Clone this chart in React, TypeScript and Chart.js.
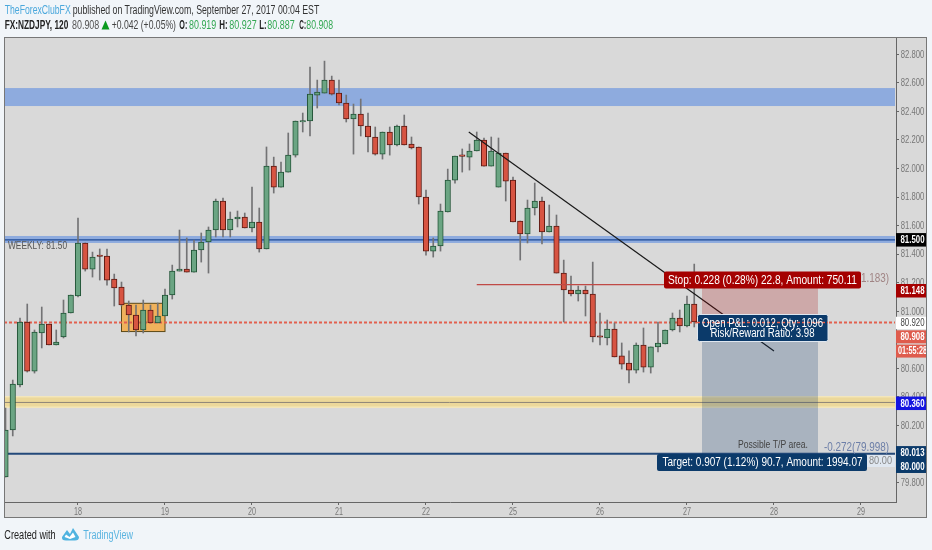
import React, { useEffect, useRef } from "react";
import { Chart, registerables } from "chart.js";

Chart.register(...registerables);

// Bar index 0..95, 12 two-hour bars per trading day
const opens = [79.837,80.167,80.482,80.924,80.58,80.847,80.91,80.763,80.819,80.987,81.106,81.478,81.295,81.385,81.386,81.225,81.169,81.043,80.973,80.868,81.008,80.917,80.966,81.113,81.281,81.295,81.274,81.429,81.485,81.569,81.772,81.569,81.646,81.66,81.583,81.625,81.436,82.017,81.87,81.975,82.094,82.326,82.333,82.515,82.529,82.62,82.529,82.459,82.347,82.382,82.298,82.221,82.101,82.256,82.165,82.298,82.172,82.151,81.8,81.421,81.457,81.695,81.919,82.087,82.08,82.123,82.2,82.017,81.87,82.108,81.919,81.632,81.541,81.723,81.772,81.555,81.597,81.267,81.148,81.12,81.148,81.12,80.82,80.812,80.875,80.686,80.636,80.587,80.763,80.608,80.749,80.77,80.868,80.952,80.896,81.05];
const highs = [80.321,80.517,80.952,81.05,80.868,81.029,80.91,80.868,81.078,81.113,81.653,81.478,81.414,81.436,81.436,81.26,81.204,81.071,81.043,81.078,81.043,81.057,81.155,81.323,81.569,81.513,81.499,81.548,81.59,81.786,81.793,81.695,81.702,81.688,81.87,81.723,82.151,82.08,82.045,82.249,82.333,82.389,82.711,82.62,82.753,82.648,82.62,82.515,82.452,82.487,82.389,82.291,82.256,82.291,82.305,82.375,82.221,82.151,81.849,81.513,81.751,81.996,82.087,82.137,82.172,82.256,82.214,82.221,82.214,82.108,81.94,81.632,81.779,81.898,81.8,81.744,81.674,81.358,81.246,81.176,81.176,81.344,80.987,80.938,80.917,80.777,80.721,80.777,80.882,80.749,80.924,80.868,80.987,81.008,81.106,81.33];
const lows = [79.837,80.125,80.468,80.573,80.566,80.742,80.763,80.763,80.812,80.987,81.099,81.281,81.239,81.218,81.183,81.036,81.036,80.854,80.826,80.847,80.917,80.917,80.966,81.085,81.281,81.274,81.274,81.344,81.267,81.52,81.52,81.52,81.59,81.583,81.555,81.414,81.436,81.828,81.87,81.975,82.08,82.256,82.228,82.424,82.529,82.515,82.445,82.326,82.101,82.228,82.116,82.094,82.066,82.094,82.158,82.165,82.137,81.751,81.393,81.379,81.421,81.695,81.898,81.975,81.989,82.123,82.017,82.017,81.87,81.772,81.625,81.358,81.478,81.674,81.471,81.555,81.267,80.924,81.106,81.071,80.966,80.784,80.763,80.763,80.679,80.594,80.496,80.566,80.573,80.566,80.714,80.77,80.861,80.854,80.889,80.889];
const closes = [80.167,80.489,80.924,80.58,80.854,80.91,80.763,80.784,80.987,81.113,81.478,81.295,81.379,81.383,81.218,81.162,81.043,80.973,80.868,81.008,80.917,80.966,81.113,81.281,81.295,81.274,81.429,81.485,81.569,81.772,81.569,81.646,81.66,81.583,81.625,81.436,82.017,81.87,81.975,82.094,82.333,82.333,82.522,82.536,82.62,82.522,82.459,82.347,82.382,82.298,82.221,82.101,82.256,82.165,82.298,82.165,82.144,81.8,81.421,81.457,81.702,81.919,82.087,82.085,82.123,82.2,82.017,82.123,82.108,81.912,81.625,81.541,81.723,81.772,81.555,81.597,81.267,81.148,81.12,81.148,81.12,80.819,80.817,80.875,80.679,80.629,80.587,80.763,80.608,80.749,80.777,80.868,80.952,80.896,81.05,80.924];

const dayPositions = [10, 22, 34, 46, 58, 70, 82, 94, 106, 118];
const dayLabels = ["18", "19", "20", "21", "22", "25", "26", "27", "28", "29"];
const priceTicks = [79.8, 80, 80.2, 80.4, 80.6, 80.8, 81, 81.2, 81.4, 81.6, 81.8, 82, 82.2, 82.4, 82.6, 82.8];

const upperZone = [82.438, 82.564];
const weeklyZone = [81.478, 81.527];
const weeklyLevel = 81.5;
const yellowZone = [80.321, 80.405];
const yellowLevel = 80.36;
const targetLevel = 80.0;
const currentLevel = 80.92;
const stopLevel = 81.186;
const entryLevel = 80.955;
const orangeBoxX = [16, 22];
const orangeBoxY = [80.857, 81.055];
const positionX = [96.07, 112.07];
const stopLineStart = 65;
const trendX = [63.9, 106];
const trendY = [82.256, 80.72];

const axisLabels = [
  { text: "81.500", at: 81.5, bg: "#000000", fg: "#ffffff", bold: true, h: 13.5 },
  { text: "81.148", at: 81.143, bg: "#a50000", fg: "#ffffff", bold: true, h: 13.5 },
  { text: "80.920", at: 80.917, bg: "#ffffff", fg: "#444444", bold: false, h: 12.5 },
  { text: "80.908", at: 80.82, bg: "#df5c4d", fg: "#ffffff", bold: true, h: 13 },
  { text: "01:55:28", at: 80.72, bg: "#df5c4d", fg: "#ffffff", bold: true, h: 13 },
  { text: "80.360", at: 80.354, bg: "#1414e0", fg: "#ffffff", bold: true, h: 13.5 },
  { text: "80.013", at: 80.005, bg: "#0b3a6a", fg: "#ffffff", bold: true, h: 14 },
  { text: "80.000", at: 79.911, bg: "#0b3a6a", fg: "#ffffff", bold: true, h: 13 },
];

const FONT = '"Liberation Sans", Arial, sans-serif';
const UP = "#6ba583";
const DOWN = "#d75442";
const UP_EDGE = "#225437";
const DOWN_EDGE = "#5b1a13";
const WICK = "#737375";

const isUp = (i: number) => closes[i] >= opens[i];

function text(ctx: any, s: string, x: number, y: number, font: string, color: string, align: CanvasTextAlign = "left", maxW?: number) {
  ctx.font = font;
  ctx.fillStyle = color;
  ctx.textAlign = align;
  ctx.textBaseline = "middle";
  if (maxW) ctx.fillText(s, x, y, maxW);
  else ctx.fillText(s, x, y);
}

function box(ctx: any, x: number, y: number, w: number, h: number, r: number, fill: string, stroke?: string) {
  ctx.beginPath();
  ctx.roundRect(x, y, w, h, r);
  ctx.fillStyle = fill;
  ctx.fill();
  if (stroke) {
    ctx.strokeStyle = stroke;
    ctx.lineWidth = 1;
    ctx.stroke();
  }
}

const framePlugin = {
  id: "frame",
  beforeDraw(chart: any) {
    const c = chart.ctx;
    c.save();
    c.fillStyle = "#d9d9d9";
    c.fillRect(4, 37, 923, 481);
    c.restore();
  },
  beforeDatasetsDraw(chart: any) {
    const c = chart.ctx;
    const { x, y } = chart.scales;
    const a = chart.chartArea;
    const band = (v: number[], color: string, right = a.right - 1) => {
      c.fillStyle = color;
      const t = y.getPixelForValue(v[1]);
      c.fillRect(a.left, t, right - a.left, y.getPixelForValue(v[0]) - t);
    };
    const hline = (v: number, color: string, w: number, from = a.left, to = a.right - 1) => {
      c.strokeStyle = color;
      c.lineWidth = w;
      c.beginPath();
      c.moveTo(from, y.getPixelForValue(v));
      c.lineTo(to, y.getPixelForValue(v));
      c.stroke();
    };
    c.save();
    band(upperZone, "#8eabde");
    band(weeklyZone, "#8eabde");
    hline(weeklyLevel, "#1c4a96", 1.4);
    band(yellowZone, "#f3e6ba");
    const ym = y.getPixelForValue(yellowLevel);
    c.fillStyle = "#ecd89a";
    c.fillRect(a.left, ym - 5, a.right - 1 - a.left, 9);
    hline(yellowLevel, "#8d8479", 1);
    hline(targetLevel, "#23497a", 2);
    const ox0 = x.getPixelForValue(orangeBoxX[0]);
    const ox1 = x.getPixelForValue(orangeBoxX[1]);
    const oy0 = y.getPixelForValue(orangeBoxY[1]);
    const oy1 = y.getPixelForValue(orangeBoxY[0]);
    c.fillStyle = "#f0b25c";
    c.fillRect(ox0, oy0, ox1 - ox0, oy1 - oy0);
    c.strokeStyle = "#5d4a17";
    c.lineWidth = 1;
    c.strokeRect(ox0, oy0, ox1 - ox0, oy1 - oy0);
    c.setLineDash([3, 2]);
    hline(currentLevel, "#e2604f", 2);
    c.setLineDash([]);
    text(c, "WEEKLY: 81.50", 8, 246, `10.5px ${FONT}`, "#555555", "left", 59);
    c.restore();
  },
  afterDraw(chart: any) {
    const c = chart.ctx;
    const { x, y } = chart.scales;
    const a = chart.chartArea;
    c.save();
    for (const t of y.ticks) {
      text(c, t.label, 900.7, y.getPixelForValue(t.value) + 0.5, `10.5px ${FONT}`, "#777777", "left", 23.5);
    }
    for (const t of x.ticks) {
      text(c, t.label, x.getPixelForValue(t.value), 511.7, `10.5px ${FONT}`, "#777777", "center", 8);
    }
    const px0 = x.getPixelForValue(positionX[0]);
    const px1 = x.getPixelForValue(positionX[1]);
    const ps = y.getPixelForValue(stopLevel);
    const pe = y.getPixelForValue(entryLevel);
    const pt = y.getPixelForValue(targetLevel);
    c.fillStyle = "rgba(165,0,0,0.22)";
    c.fillRect(px0, ps, px1 - px0, pe - ps);
    c.fillStyle = "rgba(11,58,106,0.233)";
    c.fillRect(px0, pe, px1 - px0, pt - pe);
    c.strokeStyle = "#c04a46";
    c.lineWidth = 1.4;
    c.beginPath();
    c.moveTo(x.getPixelForValue(stopLineStart), ps);
    c.lineTo(px1, ps);
    c.stroke();

    text(c, "1.183)", 861, 279, `12px ${FONT}`, "#a08484", "left", 28);
    text(c, "Possible T/P area.", 738, 445, `10.5px ${FONT}`, "#444444", "left", 70);
    text(c, "-0.272(79.998)", 824, 447.5, `12px ${FONT}`, "#6d7fa8", "left", 65);
    c.fillStyle = "#dfe7f0";
    c.fillRect(866, 455, 29, 12);
    text(c, "80.00", 869, 460.5, `11px ${FONT}`, "#888888", "left", 23);

    box(c, 664, 271.5, 197, 17, 2, "#a50000");
    text(c, "Stop: 0.228 (0.28%) 22.8, Amount: 750.11", 668, 280.5, `12px ${FONT}`, "#ffffff", "left", 189);
    box(c, 697.5, 314.5, 130.5, 27, 2, "#0b3a6a", "#dfe7f0");
    const cy = y.getPixelForValue(currentLevel);
    c.strokeStyle = "#e2604f";
    c.lineWidth = 1.6;
    c.setLineDash([3, 2]);
    c.beginPath();
    c.moveTo(697, cy);
    c.lineTo(828, cy);
    c.stroke();
    c.setLineDash([]);
    text(c, "Open P&L: 0.012, Qty: 1096", 762.5, 323.5, `12px ${FONT}`, "#ffffff", "center", 121);
    text(c, "Risk/Reward Ratio: 3.98", 762.5, 334, `12px ${FONT}`, "#ffffff", "center", 104);
    box(c, 657, 454, 210, 17, 2, "#0b3a6a");
    text(c, "Target: 0.907 (1.12%) 90.7, Amount: 1994.07", 662.5, 463, `12px ${FONT}`, "#ffffff", "left", 200);

    for (const l of axisLabels) {
      const cyl = y.getPixelForValue(l.at);
      c.fillStyle = l.bg;
      c.fillRect(a.right, cyl - l.h / 2, 31, l.h);
      const isTimer = l.text.includes(":");
      text(c, l.text, isTimer ? a.right + 2 : a.right + 4.5, cyl + 0.5, `${l.bold ? "bold " : ""}10.5px ${FONT}`, l.fg, "left", isTimer ? 29 : 24);
    }
    c.strokeStyle = "#777777";
    c.lineWidth = 1;
    c.strokeRect(4.5, 37.5, 922, 480);
    c.restore();
  },
};

function Line({ x, x2, y, s, color, bold }: { x: number; x2: number; y: number; s: string; color: string; bold?: boolean }) {
  return (
    <text x={x} y={y} textLength={x2 - x} lengthAdjust="spacingAndGlyphs" fill={color} fontSize={12.5} fontWeight={bold ? "bold" : "normal"} fontFamily={FONT}>
      {s}
    </text>
  );
}

export default function App() {
  const ref = useRef<HTMLCanvasElement | null>(null);
  useEffect(() => {
    const index = opens.map((_, i) => i);
    const chart = new Chart(ref.current as HTMLCanvasElement, {
      type: "bar",
      data: {
        datasets: [
          {
            type: "line",
            data: trendX.map((v, i) => ({ x: v, y: trendY[i] })),
            borderColor: "#1a1a1a",
            borderWidth: 1.2,
            pointRadius: 0,
            order: 0,
          },
          {
            data: index.map((i) => ({ x: i, y: [Math.min(opens[i], closes[i]), Math.max(opens[i], closes[i])] })),
            backgroundColor: index.map((i) => (isUp(i) ? UP : DOWN)),
            borderColor: index.map((i) => (isUp(i) ? UP_EDGE : DOWN_EDGE)),
            borderWidth: 1,
            borderSkipped: false,
            barThickness: 5.5,
            minBarLength: 1.5,
            grouped: false,
            order: 1,
          },
          {
            data: index.map((i) => ({ x: i, y: [lows[i], highs[i]] })),
            backgroundColor: WICK,
            borderWidth: 0,
            barThickness: 1,
            grouped: false,
            order: 2,
          },
        ] as any,
      },
      options: {
        animation: false,
        responsive: false,
        devicePixelRatio: 1,
        layout: { padding: { left: 4, top: 37, right: 5, bottom: 32 } },
        plugins: { legend: { display: false }, tooltip: { enabled: false } },
        scales: {
          x: {
            type: "linear",
            offset: false,
            min: -0.207,
            max: 122.83,
            afterBuildTicks: (s: any) => {
              s.ticks = dayPositions.map((value) => ({ value }));
            },
            afterFit: (s: any) => {
              s.height = 16;
            },
            border: { color: "#666666" },
            grid: { offset: false, drawOnChartArea: false, tickLength: 3, color: "#666666" },
            ticks: {
              display: false,
              autoSkip: false,
              maxRotation: 0,
              callback: (v: any) => dayLabels[dayPositions.indexOf(v)] ?? "",
            },
          },
          y: {
            position: "right",
            min: 79.662,
            max: 82.922,
            afterBuildTicks: (s: any) => {
              s.ticks = priceTicks.map((value) => ({ value }));
            },
            afterFit: (s: any) => {
              s.width = 31;
            },
            border: { color: "#666666" },
            grid: { drawOnChartArea: false, tickLength: 3, color: "#666666" },
            ticks: {
              display: false,
              autoSkip: false,
              callback: (v: any) => Number(v).toFixed(3),
            },
          },
        },
      } as any,
      plugins: [framePlugin],
    });
    return () => chart.destroy();
  }, []);

  return (
    <div style={{ position: "fixed", left: 0, top: 0, width: 932, height: 550, background: "#f1f5f9", overflow: "hidden" }}>
      <canvas ref={ref} width={932} height={550} style={{ position: "absolute", left: 0, top: 0, width: 932, height: 550 }} />
      <svg width={932} height={550} style={{ position: "absolute", left: 0, top: 0 }}>
        <Line x={4.7} x2={70.7} y={14} s="TheForexClubFX" color="#4aa8dc" />
        <Line x={72.7} x2={319.3} y={14} s="published on TradingView.com, September 27, 2017 00:04 EST" color="#333333" />
        <Line x={4.7} x2={68.3} y={29} s="FX:NZDJPY, 120" color="#222222" bold />
        <Line x={72} x2={99.3} y={29} s="80.908" color="#555555" />
        <polygon points="105.5,20.5 109.5,29.5 101.5,29.5" fill="#0a9a1e" />
        <Line x={111.7} x2={176} y={29} s="+0.042 (+0.05%)" color="#444444" />
        <Line x={179.3} x2={187.3} y={29} s="O:" color="#222222" bold />
        <Line x={189} x2={216.3} y={29} s="80.919" color="#34a853" />
        <Line x={219.3} x2={227.7} y={29} s="H:" color="#222222" bold />
        <Line x={229.3} x2={256.7} y={29} s="80.927" color="#34a853" />
        <Line x={259.3} x2={266.7} y={29} s="L:" color="#222222" bold />
        <Line x={267.3} x2={294.7} y={29} s="80.887" color="#34a853" />
        <Line x={299.3} x2={306} y={29} s="C:" color="#222222" bold />
        <Line x={306.3} x2={333} y={29} s="80.908" color="#34a853" />
        <Line x={4.3} x2={55.7} y={539} s="Created with" color="#222222" />
        <path d="M62 537 L67 530 L70 534 L73 528 L79 537 Q79 540.5 75 540.5 L66 540.5 Q61.5 540.5 62 537 Z" fill="#4fb3e0" />
        <path d="M66 534.5 L69.5 537 L73 532.5 L75.5 537 L70 539 L64.5 537 Z" fill="#ffffff" />
        <Line x={83.3} x2={133} y={539} s="TradingView" color="#5ab4e0" />
      </svg>
    </div>
  );
}
